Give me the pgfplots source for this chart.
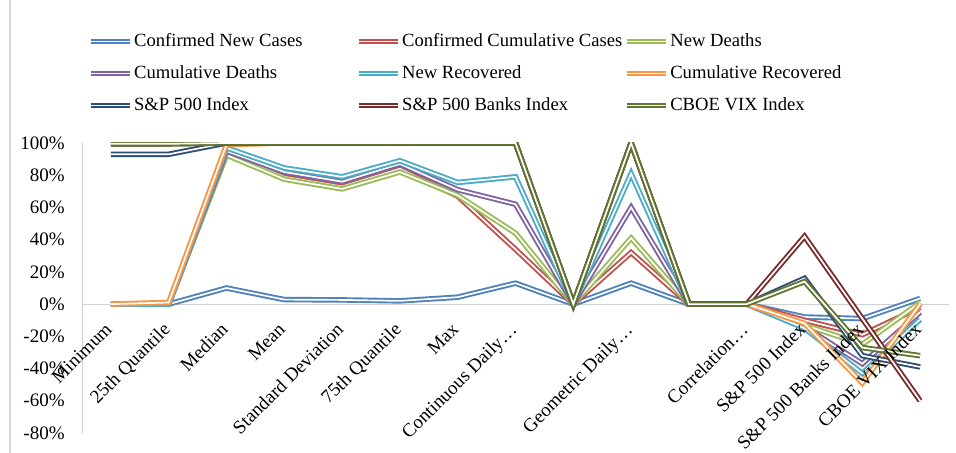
\documentclass[border=0pt]{standalone}
\usepackage{fontspec}
\setmainfont{Liberation Serif}
\usepackage{pgfplots}
\usepackage{pgfplotstable}
\pgfplotsset{compat=1.18}
\definecolor{c1}{HTML}{4F81BD}
\definecolor{c2}{HTML}{C0504D}
\definecolor{c3}{HTML}{9BBB59}
\definecolor{c4}{HTML}{8064A2}
\definecolor{c5}{HTML}{4BACC6}
\definecolor{c6}{HTML}{F79646}
\definecolor{c7}{HTML}{2C4D75}
\definecolor{c8}{HTML}{772C2A}
\definecolor{c9}{HTML}{5F7530}
\newcommand{\lf}{\fontsize{9.5}{11}\selectfont}
\newcommand{\lgf}{\fontsize{9.3}{11}\selectfont}
\pgfplotstableread{
x   cnc   ccc   nd    cd    nr    cr    sp    spb   vix
0   0     0     0     0     0     0     93    99.5  99.5
1   0     0     0     0     0     1     93    99.5  99.5
2   10    94    92.5  95    97    99    100   100   100
3   2.8   79    77.5  82    84.5  100   100   100   100
4   2.6   73    71.5  76    79    100   100   100   100
5   2     84    82    87    89    100   100   100   100
6   4.3   67    67.5  71    75.5  100   100   100   100
7   13    34    44    62    79    100   100   100   100
8   0     0     0     0     0     0     0     0     0
9   13    32    41    60    81    100   100   100   100
10  0     0     0     0     0     0     0     0     0
11  0     0     0     0     0     0     0     0     0
12  -8    -10   -13   -14   -15   -12   16    42    14
13  -9    -19   -25   -37   -43   -49   -32   -9    -27
14  3.5   -2    1     -5    -9.5  0     -39   -60   -32
}\data
\begin{document}
\begin{tikzpicture}
\useasboundingbox (-41pt,-10pt) rectangle (437pt,216.5pt);
\draw[black!15, line width=0.6pt] (-36pt,-10pt) -- (-36pt,216.5pt);
\begin{axis}[
  axis on top,
  scale only axis, width=433.5pt, height=145pt,
  xmin=-0.5, xmax=14.5, ymin=-80, ymax=100,
  axis x line*=middle, axis y line*=left,
  hide obscured x ticks=false, hide obscured y ticks=false,
  axis line style={draw=none, -},
  tick style={draw=none},
  ytick={-80,-60,...,100},
  yticklabel={\pgfmathprintnumber{\tick}\%},
  /pgf/number format/assume math mode=true,
  yticklabel style={font=\lf, inner sep=0pt, xshift=-8.5pt},
  xtick={0,...,14},
  xticklabels={Minimum,25th Quantile,Median,Mean,Standard Deviation,75th Quantile,Max,Continuous Daily…,{},Geometric Daily…,{},Correlation…,S\&P 500 Index,S\&P 500 Banks Index,CBOE VIX Index},
  xticklabel style={font=\lf, inner sep=0pt, xshift=-3.5pt, yshift=-8.5pt, rotate=45, anchor=north east},
  every axis plot/.append style={line width=0.95pt, double=white, double distance=0.85pt},
  legend image code/.code={\draw[#1] (0pt,0pt) -- (19.5pt,0pt);},
  legend columns=3,
  legend cell align=left,
  legend style={at={(0.0065,1.381)}, anchor=north west, draw=none, fill=none,
    inner sep=0pt, font=\lgf, row sep=7.4pt,
    nodes={inner sep=0pt, text height=6.6pt, text depth=2pt},
    /tikz/every odd column/.style={column sep=0.8pt}},
]
\draw[black!18, line width=0.6pt] (axis cs:-0.5,0) -- (axis cs:14.5,0);
\draw[black!18, line width=0.6pt] (rel axis cs:0,0) -- (rel axis cs:0,1);
\addplot[c1] table[x=x,y=cnc]{\data};
\addlegendentry{\makebox[111pt][l]{Confirmed New Cases}}
\addplot[c2] table[x=x,y=ccc]{\data};
\addlegendentry{\makebox[111pt][l]{Confirmed Cumulative Cases}}
\addplot[c3] table[x=x,y=nd]{\data};
\addlegendentry{\makebox[111pt][l]{New Deaths}}
\addplot[c4] table[x=x,y=cd]{\data};
\addlegendentry{\makebox[111pt][l]{Cumulative Deaths}}
\addplot[c5] table[x=x,y=nr]{\data};
\addlegendentry{\makebox[111pt][l]{New Recovered}}
\addplot[c6] table[x=x,y=cr]{\data};
\addlegendentry{\makebox[111pt][l]{Cumulative Recovered}}
\addplot[c7] table[x=x,y=sp]{\data};
\addlegendentry{\makebox[111pt][l]{S\&P 500 Index}}
\addplot[c8] table[x=x,y=spb]{\data};
\addlegendentry{\makebox[111pt][l]{S\&P 500 Banks Index}}
\addplot[c9] table[x=x,y=vix]{\data};
\addlegendentry{\makebox[111pt][l]{CBOE VIX Index}}
\end{axis}
\end{tikzpicture}
\end{document}
